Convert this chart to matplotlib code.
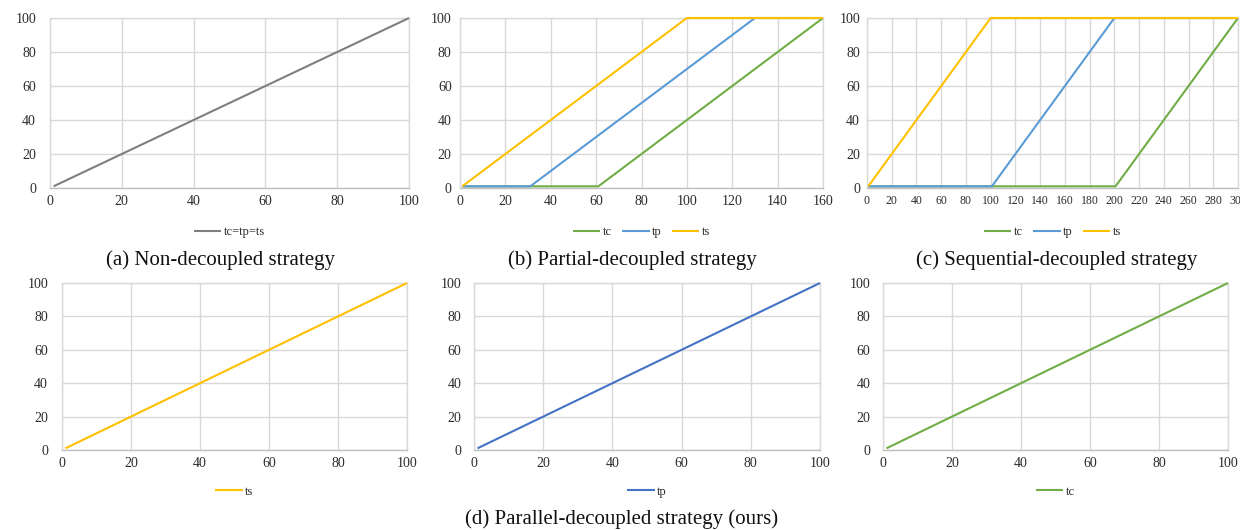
import matplotlib
matplotlib.use("Agg")
import matplotlib.pyplot as plt
from matplotlib.ticker import MultipleLocator

# ---------------- data ----------------
# (a) non-decoupled
a_x = [1, 100]
a_all = [1, 100]

# (b) partial-decoupled
b_tc_x = [1, 61, 160]
b_tc_y = [1, 1, 100]
b_tp_x = [1, 31, 130, 160]
b_tp_y = [1, 1, 100, 100]
b_ts_x = [1, 100, 160]
b_ts_y = [1, 100, 100]

# (c) sequential-decoupled
c_tc_x = [1, 201, 300]
c_tc_y = [1, 1, 100]
c_tp_x = [1, 101, 200, 300]
c_tp_y = [1, 1, 100, 100]
c_ts_x = [1, 100, 300]
c_ts_y = [1, 100, 100]

# (d) parallel-decoupled
d_x = [1, 100]
d_ts = [1, 100]
d_tp = [1, 100]
d_tc = [1, 100]

captions = ["(a) Non-decoupled strategy", "(b) Partial-decoupled strategy",
            "(c) Sequential-decoupled strategy", "(d) Parallel-decoupled strategy (ours)"]

# ---------------- style ----------------
GRAY = "#7f7f7f"
YEL = "#ffc000"
BLUE = "#5b9bd5"
BLUE_D = "#4472c4"
GREEN = "#70ad47"
GRID = "#d9d9d9"
TXT = "#2b2b2b"
SERIF = ["Liberation Serif", "DejaVu Serif"]
LW = 1.5

plt.rcParams["font.family"] = SERIF

fig = plt.figure(figsize=(12.4, 5.3), dpi=100)


def fig_rect(l, r, top, bot):
    W, H = 1240.0, 530.0
    return [l / W, 1 - bot / H, (r - l) / W, (bot - top) / H]


def style(ax, xmax, xstep, xfs=10, ypad=8):
    ax.set_xlim(0, xmax)
    ax.set_ylim(0, 100)
    ax.xaxis.set_major_locator(MultipleLocator(xstep))
    ax.yaxis.set_major_locator(MultipleLocator(20))
    ax.grid(True, color=GRID, lw=1.0)
    ax.set_axisbelow(True)
    for s in ax.spines.values():
        s.set_color(GRID)
        s.set_linewidth(1.0)
        s.set_zorder(0.5)
    ax.spines["bottom"].set_color("#bfbfbf")
    ax.tick_params(length=0, colors=TXT)
    ax.tick_params(axis="x", labelsize=xfs, pad=5)
    ax.tick_params(axis="y", labelsize=10, pad=ypad)


def line(ax, x, y, color, label):
    ax.plot(x, y, color=color, lw=LW, label=label, clip_on=False, zorder=3,
            solid_capstyle="butt")


def legend(ax, y):
    leg = ax.legend(loc="center", bbox_to_anchor=(0.5, y), ncol=3, frameon=False,
                    fontsize=9, handlelength=2.2, handletextpad=0.2, columnspacing=0.8)
    for t in leg.get_texts():
        t.set_color(TXT)


# (a)
axa = fig.add_axes(fig_rect(50, 409, 18, 188))
line(axa, a_x, a_all, GRAY, "tc=tp=ts")
style(axa, 100, 20, ypad=10)
legend(axa, -0.26)

# (b)
axb = fig.add_axes(fig_rect(460, 823, 18, 188))
line(axb, b_tc_x, b_tc_y, GREEN, "tc")
line(axb, b_tp_x, b_tp_y, BLUE, "tp")
line(axb, b_ts_x, b_ts_y, YEL, "ts")
style(axb, 160, 20, ypad=6)
legend(axb, -0.26)

# (c)
axc = fig.add_axes(fig_rect(867, 1238, 18, 188))
line(axc, c_tc_x, c_tc_y, GREEN, "tc")
line(axc, c_tp_x, c_tp_y, BLUE, "tp")
line(axc, c_ts_x, c_ts_y, YEL, "ts")
style(axc, 300, 20, xfs=8.5, ypad=5)
legend(axc, -0.26)

# (d) three panels
axd1 = fig.add_axes(fig_rect(62, 407, 283, 450))
line(axd1, d_x, d_ts, YEL, "ts")
style(axd1, 100, 20, ypad=10)
legend(axd1, -0.25)

axd2 = fig.add_axes(fig_rect(474, 820, 283, 450))
line(axd2, d_x, d_tp, BLUE_D, "tp")
style(axd2, 100, 20, ypad=9)
legend(axd2, -0.25)

axd3 = fig.add_axes(fig_rect(883, 1228, 283, 450))
line(axd3, d_x, d_tc, GREEN, "tc")
style(axd3, 100, 20, ypad=9)
legend(axd3, -0.25)

# captions
cap_fs = 15
fig.text(220 / 1240, 1 - 260 / 530, captions[0], ha="center", va="center", fontsize=cap_fs, color="#111111")
fig.text(632 / 1240, 1 - 260 / 530, captions[1], ha="center", va="center", fontsize=cap_fs, color="#111111")
fig.text(1057 / 1240, 1 - 260 / 530, captions[2], ha="center", va="center", fontsize=cap_fs, color="#111111")
fig.text(622 / 1240, 1 - 519 / 530, captions[3], ha="center", va="center", fontsize=cap_fs, color="#111111")

fig.savefig("out.png", dpi=100, facecolor="white")
